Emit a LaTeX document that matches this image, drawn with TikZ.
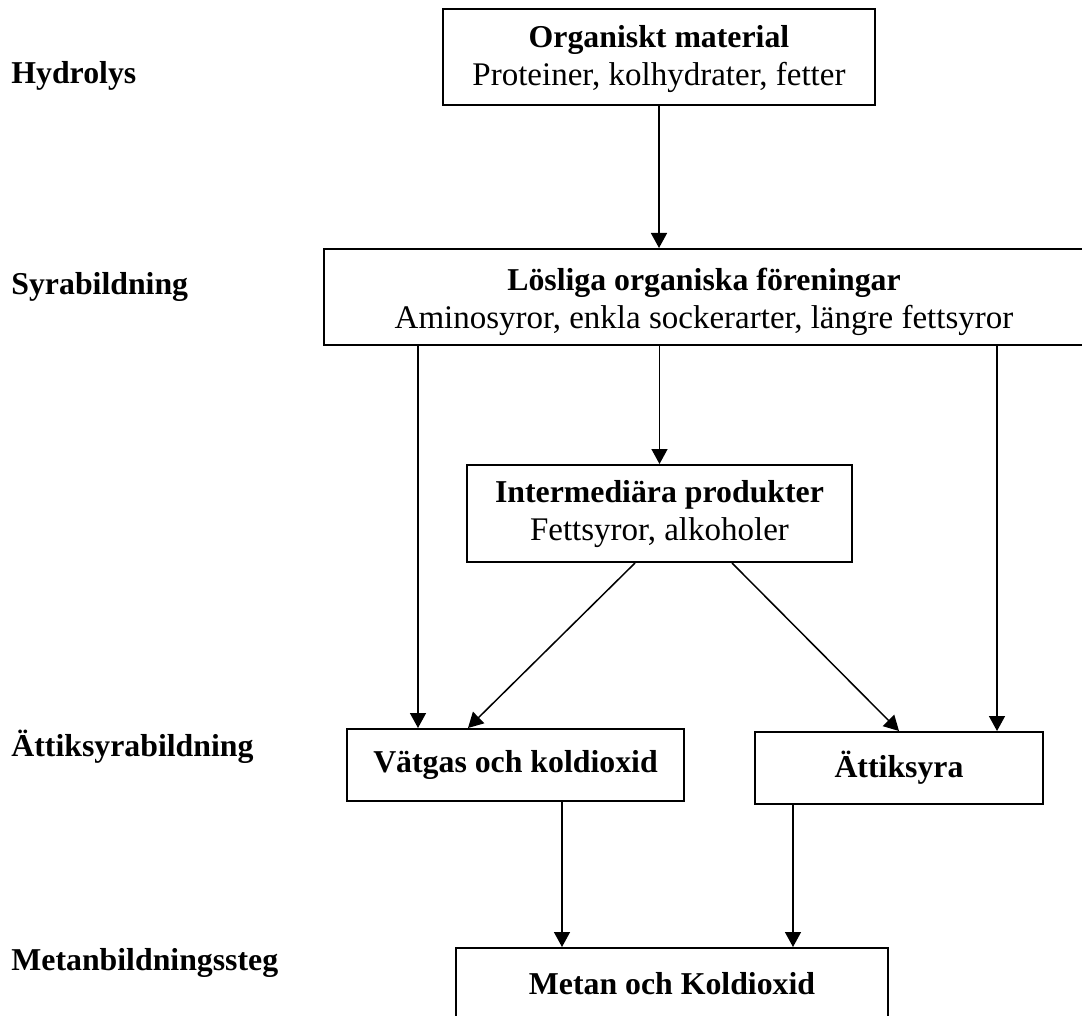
\documentclass[tikz,border=0pt]{standalone}
\usepackage{fontspec}
\setmainfont{Liberation Serif}
\usetikzlibrary{arrows.meta}
\newcommand{\boxhead}[1]{{\fontsize{15.9}{19}\selectfont\bfseries #1}}

\begin{document}
\begin{tikzpicture}[x=0.5pt, y=-0.5pt,
      box/.style={rectangle, draw=black, line width=1pt, fill=white, inner sep=0pt,
                  align=center, font=\fontsize{16.5}{19}\selectfont},
      stage/.style={anchor=base west, inner sep=0pt,
                  font=\fontsize{15.9}{19}\selectfont\bfseries},
      arr/.style={-{Triangle[length=7.5pt, width=8pt]}, line width=0.75pt}]
    \useasboundingbox (0,0) rectangle (1082,1016);
    \clip (0,0) rectangle (1082,1016);
    % stages
    \node[stage] (hyd) at (11,84) {Hydrolys};
    \node[stage] (syr) at (11,295) {Syrabildning};
    \node[stage] (att-st) at (11,756) {Ättiksyrabildning};
    \node[stage] (met-st) at (11,970) {Metanbildningssteg};
    % boxes
    \node[box, minimum width=216pt, minimum height=48pt] (org) at (659,57)
        {\rule{0pt}{13pt}\boxhead{Organiskt material}\\ Proteiner, kolhydrater, fetter};
    \node[box, minimum width=380pt, minimum height=48pt] (los) at (704,297)
        {\rule{0pt}{16pt}\boxhead{Lösliga organiska föreningar}\\ Aminosyror, enkla sockerarter, längre fettsyror};
    \node[box, minimum width=192.5pt, minimum height=48.5pt] (inter) at (659.5,513.5)
        {\rule{0pt}{12pt}\boxhead{Intermediära produkter}\\ Fettsyror, alkoholer};
    \node[box, minimum width=168.5pt, minimum height=36pt] (vat) at (515.5,765)
        {\boxhead{Vätgas och koldioxid}};
    \node[box, minimum width=144pt, minimum height=36pt] (att) at (899,768)
        {\boxhead{Ättiksyra}};
    \node[box, minimum width=216pt, minimum height=36pt] (met) at (672,984)
        {\boxhead{Metan och Koldioxid}};
    % arrows
    \draw[arr] (org.south) -- (org.south |- los.north);
    \draw[arr] ([xshift=36pt]vat.north west |- los.south) -- ([xshift=36pt]vat.north west);
    \draw[arr] (inter.north |- los.south) -- (inter.north);
    \draw[arr] ([xshift=-23.5pt]att.north east |- los.south) -- ([xshift=-23.5pt]att.north east);
    \draw[arr] ([xshift=-12.25pt]inter.south) -- ([xshift=61pt]vat.north west);
    \draw[arr] ([xshift=36.25pt]inter.south) -- (att.north);
    \draw[arr] ([xshift=108pt]vat.south west) -- ([xshift=108pt]vat.south west |- met.north);
    \draw[arr] ([xshift=19.5pt]att.south west) -- ([xshift=19.5pt]att.south west |- met.north);
  \end{tikzpicture}
\end{document}
